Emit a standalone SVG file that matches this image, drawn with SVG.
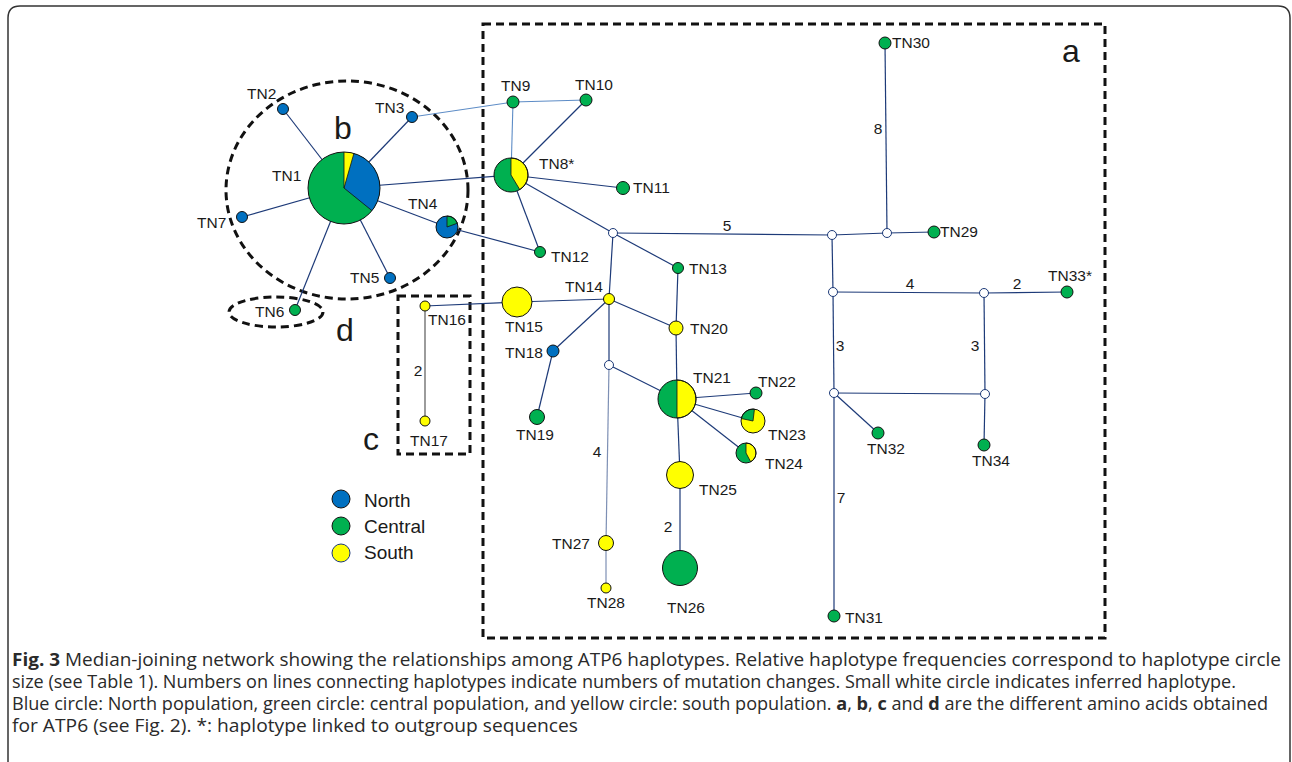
<svg xmlns="http://www.w3.org/2000/svg" width="1292" height="762" viewBox="0 0 1292 762">
<style>
.e{stroke:#1d3a78;stroke-width:1.2;fill:none}
.el{stroke:#5d8cc6;stroke-width:1.1;fill:none}
.eg{stroke:#7d8fb4;stroke-width:1.2;fill:none}
.ek{stroke:#666;stroke-width:1.3;fill:none}
.n{stroke:#111;stroke-width:1}
.b{fill:#0070c0}.g{fill:#00b050}.y{fill:#ffff00}
.m{fill:#fff;stroke:#1d3a78;stroke-width:1}
.t{font-family:"Liberation Sans",Arial,sans-serif;font-size:15.5px;fill:#1a1a1a}
.num{font-family:"Liberation Sans",Arial,sans-serif;font-size:15.5px;fill:#1a1a1a;text-anchor:middle}
.big{font-family:"Liberation Sans",Arial,sans-serif;font-size:32px;fill:#1a1a1a;text-anchor:middle}
.lg{font-family:"Liberation Sans",Arial,sans-serif;font-size:19px;fill:#1a1a1a}
.d{fill:none;stroke:#111;stroke-width:3;stroke-dasharray:8 5}
.cap{font-family:"Open Sans","Liberation Sans",sans-serif;font-size:17.5px;fill:#2a2a2a}
</style>
<rect width="1292" height="762" fill="#fff"/>
<path d="M8,762 V18 Q8,6 20,6 H1278 Q1290,6 1290,18 V762" fill="none" stroke="#333" stroke-width="1.5"/>
<g id="regions">
<rect x="483" y="24" width="622" height="614" class="d"/>
<ellipse cx="347" cy="190" rx="121" ry="109" class="d"/>
<ellipse cx="276" cy="312" rx="47" ry="15" class="d"/>
<rect x="398" y="296" width="72" height="158" class="d"/>
<text class="big" x="1071" y="62">a</text>
<text class="big" x="343" y="139">b</text>
<text class="big" x="371" y="450">c</text>
<text class="big" x="345" y="341">d</text>
</g>
<g id="connectors">
<line class="e" x1="344" y1="188" x2="283" y2="109"/>
<line class="e" x1="344" y1="188" x2="412" y2="117"/>
<line class="e" x1="344" y1="188" x2="242" y2="217"/>
<line class="e" x1="344" y1="188" x2="390" y2="278"/>
<line class="e" x1="344" y1="188" x2="295" y2="310"/>
<line class="e" x1="344" y1="188" x2="447" y2="227"/>
<line class="e" x1="344" y1="188" x2="511" y2="175"/>
<line class="e" x1="447" y1="227" x2="540" y2="252"/>
<line class="el" x1="412" y1="117" x2="513" y2="102"/>
<line class="el" x1="513" y1="102" x2="586" y2="100"/>
<line class="el" x1="513" y1="102" x2="511" y2="175"/>
<line class="e" x1="511" y1="175" x2="586" y2="100"/>
<line class="e" x1="511" y1="175" x2="623" y2="188"/>
<line class="e" x1="511" y1="175" x2="540" y2="252"/>
<line class="e" x1="511" y1="175" x2="613" y2="233"/>
<line class="e" x1="613" y1="233" x2="609" y2="299"/>
<line class="e" x1="613" y1="233" x2="678" y2="268"/>
<line class="e" x1="613" y1="233" x2="832" y2="235"/>
<line class="e" x1="678" y1="268" x2="676" y2="328"/>
<line class="e" x1="676" y1="328" x2="677" y2="399"/>
<line class="e" x1="609" y1="299" x2="517" y2="302"/>
<line class="e" x1="517" y1="302" x2="425" y2="306"/>
<line class="e" x1="609" y1="299" x2="553" y2="351"/>
<line class="e" x1="553" y1="351" x2="537" y2="417"/>
<line class="e" x1="609" y1="299" x2="676" y2="328"/>
<line class="e" x1="609" y1="299" x2="609" y2="365"/>
<line class="e" x1="609" y1="365" x2="677" y2="399"/>
<line class="eg" x1="609" y1="365" x2="606" y2="543"/>
<line class="eg" x1="606" y1="543" x2="606" y2="588"/>
<line class="ek" x1="425" y1="306" x2="425" y2="421"/>
<line class="e" x1="677" y1="399" x2="756" y2="393"/>
<line class="e" x1="677" y1="399" x2="753" y2="421"/>
<line class="e" x1="677" y1="399" x2="746" y2="453"/>
<line class="e" x1="677" y1="399" x2="680" y2="475"/>
<line class="e" x1="680" y1="475" x2="680" y2="568"/>
<line class="e" x1="832" y1="235" x2="887" y2="233"/>
<line class="e" x1="887" y1="233" x2="885" y2="43"/>
<line class="e" x1="887" y1="233" x2="934" y2="232"/>
<line class="e" x1="832" y1="235" x2="833" y2="292"/>
<line class="e" x1="833" y1="292" x2="984" y2="293"/>
<line class="e" x1="984" y1="293" x2="1067" y2="292"/>
<line class="e" x1="833" y1="292" x2="834" y2="393"/>
<line class="e" x1="984" y1="293" x2="985" y2="394"/>
<line class="e" x1="834" y1="393" x2="985" y2="394"/>
<line class="e" x1="985" y1="394" x2="984" y2="445"/>
<line class="e" x1="834" y1="393" x2="878" y2="433"/>
<line class="e" x1="834" y1="393" x2="834" y2="616"/>
<text class="num" x="727" y="231">5</text>
<text class="num" x="878" y="134">8</text>
<text class="num" x="910" y="289">4</text>
<text class="num" x="1017" y="289">2</text>
<text class="num" x="840" y="351">3</text>
<text class="num" x="975" y="351">3</text>
<text class="num" x="841" y="503">7</text>
<text class="num" x="597" y="457">4</text>
<text class="num" x="668" y="532">2</text>
<text class="num" x="418" y="376">2</text>
</g>
<g id="medians">
<circle class="m" cx="613" cy="233" r="4.5"/>
<circle class="m" cx="609" cy="365" r="4.5"/>
<circle class="m" cx="832" cy="235" r="4.5"/>
<circle class="m" cx="887" cy="233" r="4.5"/>
<circle class="m" cx="833" cy="292" r="4.5"/>
<circle class="m" cx="984" cy="293" r="4.5"/>
<circle class="m" cx="834" cy="393" r="4.5"/>
<circle class="m" cx="985" cy="394" r="4.5"/>
</g>
<g id="TN1">
<circle class="g" cx="344" cy="188" r="36"/>
<path class="b" d="M344,188 L353.92,153.39 A36,36 0 0 1 371.98,210.65 Z"/>
<path class="y" d="M344,188 L344,152 A36,36 0 0 1 353.92,153.39 Z"/>
<path d="M344,152 L344,188 L371.98,210.65 M344,188 L353.92,153.39" fill="none" stroke="#111" stroke-width="0.8"/>
<circle cx="344" cy="188" r="36" fill="none" class="n"/>
<text class="t" x="272" y="181">TN1</text>
</g>
<g id="TN2"><circle class="n b" cx="283" cy="109" r="5.5"/><text class="t" x="247" y="99">TN2</text></g>
<g id="TN3"><circle class="n b" cx="412" cy="117" r="5.5"/><text class="t" x="375" y="113">TN3</text></g>
<g id="TN4">
<circle class="b" cx="447" cy="227" r="11"/>
<path class="g" d="M447,227 L447,216 A11,11 0 0 1 457.34,223.24 Z" stroke="#111" stroke-width="0.8"/>
<circle cx="447" cy="227" r="11" fill="none" class="n"/>
<text class="t" x="408" y="209">TN4</text>
</g>
<g id="TN5"><circle class="n b" cx="390" cy="278" r="5.5"/><text class="t" x="350" y="283">TN5</text></g>
<g id="TN6"><circle class="n g" cx="295" cy="310" r="5.5"/><text class="t" x="255" y="317">TN6</text></g>
<g id="TN7"><circle class="n b" cx="242" cy="217" r="5.5"/><text class="t" x="197" y="228">TN7</text></g>
<g id="TN8">
<circle class="g" cx="511" cy="175" r="17"/>
<path class="y" d="M511,175 L511,158 A17,17 0 0 1 519.76,189.58 Z" stroke="#111" stroke-width="0.8"/>
<circle cx="511" cy="175" r="17" fill="none" class="n"/>
<text class="t" x="539" y="169">TN8*</text>
</g>
<g id="TN9"><circle class="n g" cx="513" cy="102" r="6"/><text class="t" x="501" y="91">TN9</text></g>
<g id="TN10"><circle class="n g" cx="586" cy="100" r="6"/><text class="t" x="575" y="90">TN10</text></g>
<g id="TN11"><circle class="n g" cx="623" cy="188" r="6.5"/><text class="t" x="633" y="193">TN11</text></g>
<g id="TN12"><circle class="n g" cx="540" cy="252" r="5.5"/><text class="t" x="551" y="262">TN12</text></g>
<g id="TN13"><circle class="n g" cx="678" cy="268" r="5.5"/><text class="t" x="689" y="274">TN13</text></g>
<g id="TN14"><circle class="n y" cx="609" cy="299" r="5.5"/><text class="t" x="565" y="292">TN14</text></g>
<g id="TN15"><circle class="n y" cx="517" cy="302" r="15"/><text class="t" x="505" y="332">TN15</text></g>
<g id="TN16"><circle class="n y" cx="425" cy="306" r="5"/><text class="t" x="428" y="325">TN16</text></g>
<g id="TN17"><circle class="n y" cx="425" cy="421" r="5"/><text class="t" x="410" y="446">TN17</text></g>
<g id="TN18"><circle class="n b" cx="553" cy="351" r="6"/><text class="t" x="505" y="358">TN18</text></g>
<g id="TN19"><circle class="n g" cx="537" cy="417" r="7.5"/><text class="t" x="516" y="440">TN19</text></g>
<g id="TN20"><circle class="n y" cx="676" cy="328" r="7"/><text class="t" x="690" y="334">TN20</text></g>
<g id="TN21">
<circle class="g" cx="677" cy="399" r="19"/>
<path class="y" d="M677,399 L677,380 A19,19 0 0 1 677,418 Z" stroke="#111" stroke-width="0.8"/>
<circle cx="677" cy="399" r="19" fill="none" class="n"/>
<text class="t" x="693" y="383">TN21</text>
</g>
<g id="TN22"><circle class="n g" cx="756" cy="393" r="6"/><text class="t" x="758" y="387">TN22</text></g>
<g id="TN23">
<circle class="y" cx="753" cy="421" r="12"/>
<path class="g" d="M753,421 L741.26,418.51 A12,12 0 0 1 754.46,409.09 Z" stroke="#111" stroke-width="0.8"/>
<circle cx="753" cy="421" r="12" fill="none" class="n"/>
<text class="t" x="768" y="440">TN23</text>
</g>
<g id="TN24">
<circle class="g" cx="746" cy="453" r="10"/>
<path class="y" d="M746,453 L746,443 A10,10 0 0 1 750.69,461.83 Z" stroke="#111" stroke-width="0.8"/>
<circle cx="746" cy="453" r="10" fill="none" class="n"/>
<text class="t" x="765" y="469">TN24</text>
</g>
<g id="TN25"><circle class="n y" cx="680" cy="475" r="13.5"/><text class="t" x="699" y="495">TN25</text></g>
<g id="TN26"><circle class="n g" cx="680" cy="568" r="17.5"/><text class="t" x="667" y="613">TN26</text></g>
<g id="TN27"><circle class="n y" cx="606" cy="543" r="7.5"/><text class="t" x="552" y="549">TN27</text></g>
<g id="TN28"><circle class="n y" cx="606" cy="588" r="5"/><text class="t" x="587" y="608">TN28</text></g>
<g id="TN29"><circle class="n g" cx="934" cy="232" r="6"/><text class="t" x="940" y="237">TN29</text></g>
<g id="TN30"><circle class="n g" cx="885" cy="43" r="6"/><text class="t" x="892" y="48">TN30</text></g>
<g id="TN31"><circle class="n g" cx="834" cy="616" r="6"/><text class="t" x="845" y="623">TN31</text></g>
<g id="TN32"><circle class="n g" cx="878" cy="433" r="6"/><text class="t" x="867" y="454">TN32</text></g>
<g id="TN33"><circle class="n g" cx="1067" cy="292" r="6"/><text class="t" x="1048" y="281">TN33*</text></g>
<g id="TN34"><circle class="n g" cx="984" cy="445" r="6"/><text class="t" x="972" y="466">TN34</text></g>
<g id="legend">
<circle class="n b" cx="341" cy="499" r="9"/><text class="lg" x="364" y="507">North</text>
<circle class="n g" cx="341" cy="526" r="9"/><text class="lg" x="364" y="533">Central</text>
<circle class="n y" cx="341" cy="553" r="9" style="stroke:#1d3a78"/><text class="lg" x="364" y="559">South</text>
</g>
<g id="caption">
<text class="cap" x="12" y="666" textLength="1269" lengthAdjust="spacingAndGlyphs"><tspan font-weight="bold">Fig. 3</tspan> Median-joining network showing the relationships among ATP6 haplotypes. Relative haplotype frequencies correspond to haplotype circle</text>
<text class="cap" x="12" y="688" textLength="1224" lengthAdjust="spacingAndGlyphs">size (see Table 1). Numbers on lines connecting haplotypes indicate numbers of mutation changes. Small white circle indicates inferred haplotype.</text>
<text class="cap" x="12" y="710" textLength="1256" lengthAdjust="spacingAndGlyphs">Blue circle: North population, green circle: central population, and yellow circle: south population. <tspan font-weight="bold">a</tspan>, <tspan font-weight="bold">b</tspan>, <tspan font-weight="bold">c</tspan> and <tspan font-weight="bold">d</tspan> are the different amino acids obtained</text>
<text class="cap" x="12" y="732" textLength="566" lengthAdjust="spacingAndGlyphs">for ATP6 (see Fig. 2). *: haplotype linked to outgroup sequences</text>
</g>
</svg>
